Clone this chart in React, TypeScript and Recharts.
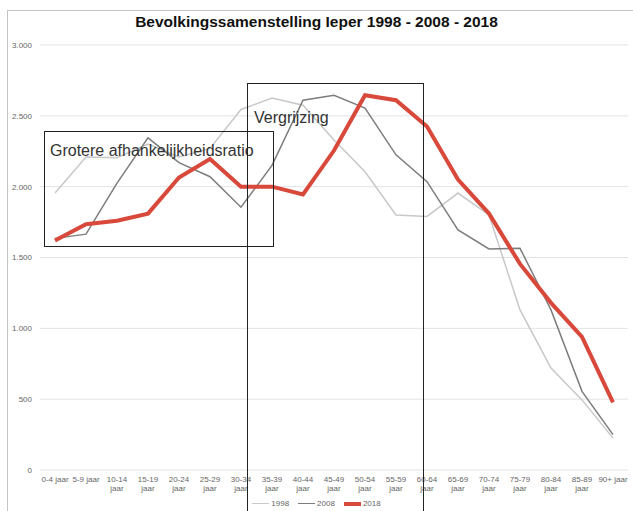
import { CartesianGrid, Legend, Line, LineChart, XAxis, YAxis } from 'recharts';

// Leeftijdsgroepen (x-as)
const AGE_GROUPS = [
  '0-4 jaar', '5-9 jaar', '10-14 jaar', '15-19 jaar', '20-24 jaar', '25-29 jaar',
  '30-34 jaar', '35-39 jaar', '40-44 jaar', '45-49 jaar', '50-54 jaar', '55-59 jaar',
  '60-64 jaar', '65-69 jaar', '70-74 jaar', '75-79 jaar', '80-84 jaar', '85-89 jaar', '90+ jaar',
];

// Inwoners per leeftijdsgroep
const POP_1998 = [1955, 2210, 2205, 2300, 2210, 2270, 2545, 2625, 2575, 2330, 2105, 1800, 1790, 1955, 1800, 1130, 720, 495, 225];
const POP_2008 = [1635, 1665, 2025, 2345, 2170, 2070, 1855, 2150, 2610, 2645, 2555, 2225, 2035, 1695, 1560, 1565, 1130, 555, 250];
const POP_2018 = [1620, 1735, 1760, 1810, 2065, 2195, 2000, 2000, 1945, 2255, 2645, 2610, 2425, 2050, 1810, 1455, 1180, 940, 478];

const Y_TICKS = [0, 500, 1000, 1500, 2000, 2500, 3000];

const SERIES = [
  { key: 'y1998', name: '1998', color: '#c8c8c8', width: 1.5 },
  { key: 'y2008', name: '2008', color: '#7d7d7d', width: 1.5 },
  { key: 'y2018', name: '2018', color: '#d8483b', width: 4 },
];

const FONT = '"Liberation Sans", Arial, Helvetica, sans-serif';

const chartData = AGE_GROUPS.map((age, i) => ({
  age,
  y1998: POP_1998[i],
  y2008: POP_2008[i],
  y2018: POP_2018[i],
}));

// 3000 -> "3.000"
const formatNl = (v: number) => v.toString().replace(/\B(?=(\d{3})+(?!\d))/g, '.');

const AgeTick = ({ x, y, payload }: { x?: number; y?: number; payload?: { value: string } }) => {
  const label = payload?.value ?? '';
  const parts = label.length > 8 ? [label.split(' ')[0], 'jaar'] : [label];
  return (
    <text x={x} y={y} textAnchor="middle" fontSize={8} fill="#666" fontFamily={FONT}>
      {parts.map((p, i) => (
        <tspan key={i} x={x} dy={i === 0 ? 4 : 9}>
          {p}
        </tspan>
      ))}
    </text>
  );
};

const LegendContent = () => (
  <div
    style={{
      height: 15, display: 'flex', justifyContent: 'center', alignItems: 'center',
      paddingLeft: 5, fontFamily: FONT, fontSize: 8, color: '#666',
    }}
  >
    {SERIES.map((s, i) => (
      <div key={s.key} style={{ display: 'flex', alignItems: 'center', marginLeft: i === 0 ? 0 : 9 }}>
        <span style={{ display: 'inline-block', width: 17, height: s.width, background: s.color, marginRight: 2 }} />
        <span>{s.name}</span>
      </div>
    ))}
  </div>
);

export default function App() {
  return (
    <div style={{ position: 'absolute', left: 0, top: 0, width: 633, height: 511, overflow: 'hidden', background: '#fff' }}>
      {/* kader rond de grafiek */}
      <div style={{ position: 'absolute', left: 7, top: 10, width: 640, height: 520, border: '1px solid #c4c4c4' }} />

      <div
        style={{
          position: 'absolute', left: 0, top: 13, width: 633, textAlign: 'center',
          fontFamily: FONT, fontWeight: 'bold', fontSize: 15.5, lineHeight: '18px', color: '#111',
        }}
      >
        Bevolkingssamenstelling Ieper 1998 - 2008 - 2018
      </div>

      <div style={{ position: 'absolute', left: 0, top: 0 }}>
        <LineChart width={633} height={511} data={chartData} margin={{ top: 45, right: 5, bottom: 0, left: 0 }}>
          <CartesianGrid vertical={false} stroke="#e3e3e3" />
          <XAxis
            dataKey="age"
            interval={0}
            axisLine={false}
            tickLine={false}
            height={26}
            padding={{ left: 15, right: 15 }}
            tick={<AgeTick />}
          />
          <YAxis
            domain={[0, 3000]}
            ticks={Y_TICKS}
            width={40}
            axisLine={false}
            tickLine={false}
            tick={{ fontSize: 8, fill: '#666', fontFamily: FONT }}
            tickFormatter={formatNl}
          />
          <Legend verticalAlign="bottom" height={15} content={<LegendContent />} />
          {SERIES.map(s => (
            <Line
              key={s.key}
              type="linear"
              dataKey={s.key}
              name={s.name}
              stroke={s.color}
              strokeWidth={s.width}
              dot={false}
              activeDot={false}
              isAnimationActive={false}
            />
          ))}
        </LineChart>
      </div>

      {/* annotatiekaders */}
      <div style={{ position: 'absolute', left: 44, top: 131, width: 228, height: 114, border: '1.5px solid #222' }} />
      <div style={{ position: 'absolute', left: 50, top: 142.5, fontFamily: FONT, fontSize: 16, lineHeight: '16px', color: '#333', whiteSpace: 'nowrap' }}>
        Grotere afhankelijkheidsratio
      </div>
      <div style={{ position: 'absolute', left: 247, top: 83, width: 175, height: 460, border: '1.5px solid #222' }} />
      <div style={{ position: 'absolute', left: 254, top: 109.5, fontFamily: FONT, fontSize: 16, lineHeight: '16px', color: '#333', whiteSpace: 'nowrap' }}>
        Vergrijzing
      </div>
    </div>
  );
}
